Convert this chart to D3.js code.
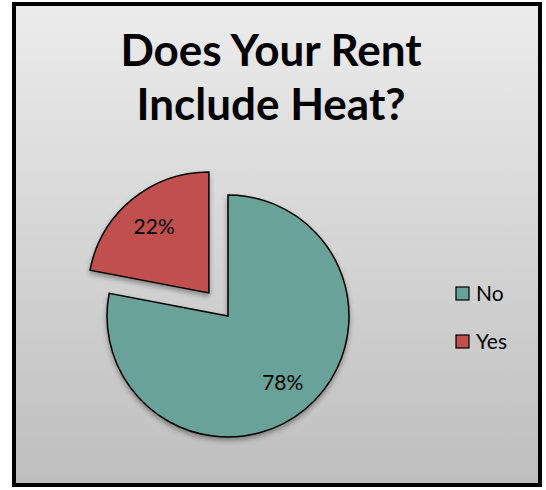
<!DOCTYPE html>
<html><head><meta charset="utf-8">
<script src="https://cdn.jsdelivr.net/npm/d3@7"></script>
<style>body{margin:0;background:#fff}svg{display:block}</style>
</head><body>
<script>
const categories = ["No", "Yes"];
const values = [78, 22];
const labels = ["78%", "22%"];
const colors = ["#67a299", "#c0504d"];
const titleLines = ["Does Your Rent", "Include Heat?"];

const W = 546, H = 490;
const svg = d3.select("body").append("svg").attr("width", W).attr("height", H);
const defs = svg.append("defs");
const grad = defs.append("linearGradient").attr("id", "bg").attr("x1", 0).attr("y1", 0).attr("x2", 0).attr("y2", 1);
grad.append("stop").attr("offset", "0%").attr("stop-color", "#ececec");
grad.append("stop").attr("offset", "100%").attr("stop-color", "#bebebe");
const f = defs.append("filter").attr("id", "sh").attr("x", "-20%").attr("y", "-20%").attr("width", "140%").attr("height", "140%");
f.append("feDropShadow").attr("dx", 0).attr("dy", 3).attr("stdDeviation", 2.5).attr("flood-color", "#000").attr("flood-opacity", 0.35);

svg.append("rect").attr("x", 14).attr("y", 4).attr("width", 526).attr("height", 481)
  .attr("fill", "url(#bg)").attr("stroke", "#000").attr("stroke-width", 4);

const fontFam = "Lato, 'Open Sans', sans-serif";
svg.append("g").selectAll("text").data(titleLines).join("text")
  .attr("x", 271).attr("y", (d, i) => 66 + i * 54)
  .attr("text-anchor", "middle").attr("font-family", fontFam)
  .attr("font-weight", "bold").attr("font-size", 44).attr("fill", "#000")
  .text(d => d);

const cx = 228, cy = 316, r = 121, explode = 30;
const pie = d3.pie().sort(null).value(d => d)(values);
const arc = d3.arc().innerRadius(0).outerRadius(r);
const lab = d3.arc().innerRadius(r * 0.71).outerRadius(r * 0.71);
const g = svg.append("g").attr("transform", `translate(${cx},${cy})`);
const off = (d, i) => {
  if (i !== 1) return [0, 0];
  const a = (d.startAngle + d.endAngle) / 2;
  return [Math.sin(a) * explode, -Math.cos(a) * explode];
};
const slices = g.selectAll("g.s").data(pie).join("g").attr("class", "s")
  .attr("transform", (d, i) => `translate(${off(d, i)})`);
slices.append("path").attr("d", arc).attr("fill", (d, i) => colors[i])
  .attr("stroke", "#000").attr("stroke-width", 1.5).attr("filter", "url(#sh)");
slices.append("text").attr("transform", d => `translate(${lab.centroid(d)})`)
  .attr("text-anchor", "middle").attr("dy", "0.35em")
  .attr("font-family", fontFam).attr("font-size", 21).attr("fill", "#000")
  .text((d, i) => labels[i]);

const leg = svg.append("g").selectAll("g").data(categories).join("g")
  .attr("transform", (d, i) => `translate(456,${293 + i * 48})`);
leg.append("rect").attr("x", 0).attr("y", -6).attr("width", 13).attr("height", 13)
  .attr("fill", (d, i) => colors[i]).attr("stroke", "#000").attr("stroke-width", 1.2);
leg.append("text").attr("x", 20).attr("dy", "0.36em")
  .attr("font-family", fontFam).attr("font-size", 21).attr("fill", "#000").text(d => d);
</script>
</body></html>
